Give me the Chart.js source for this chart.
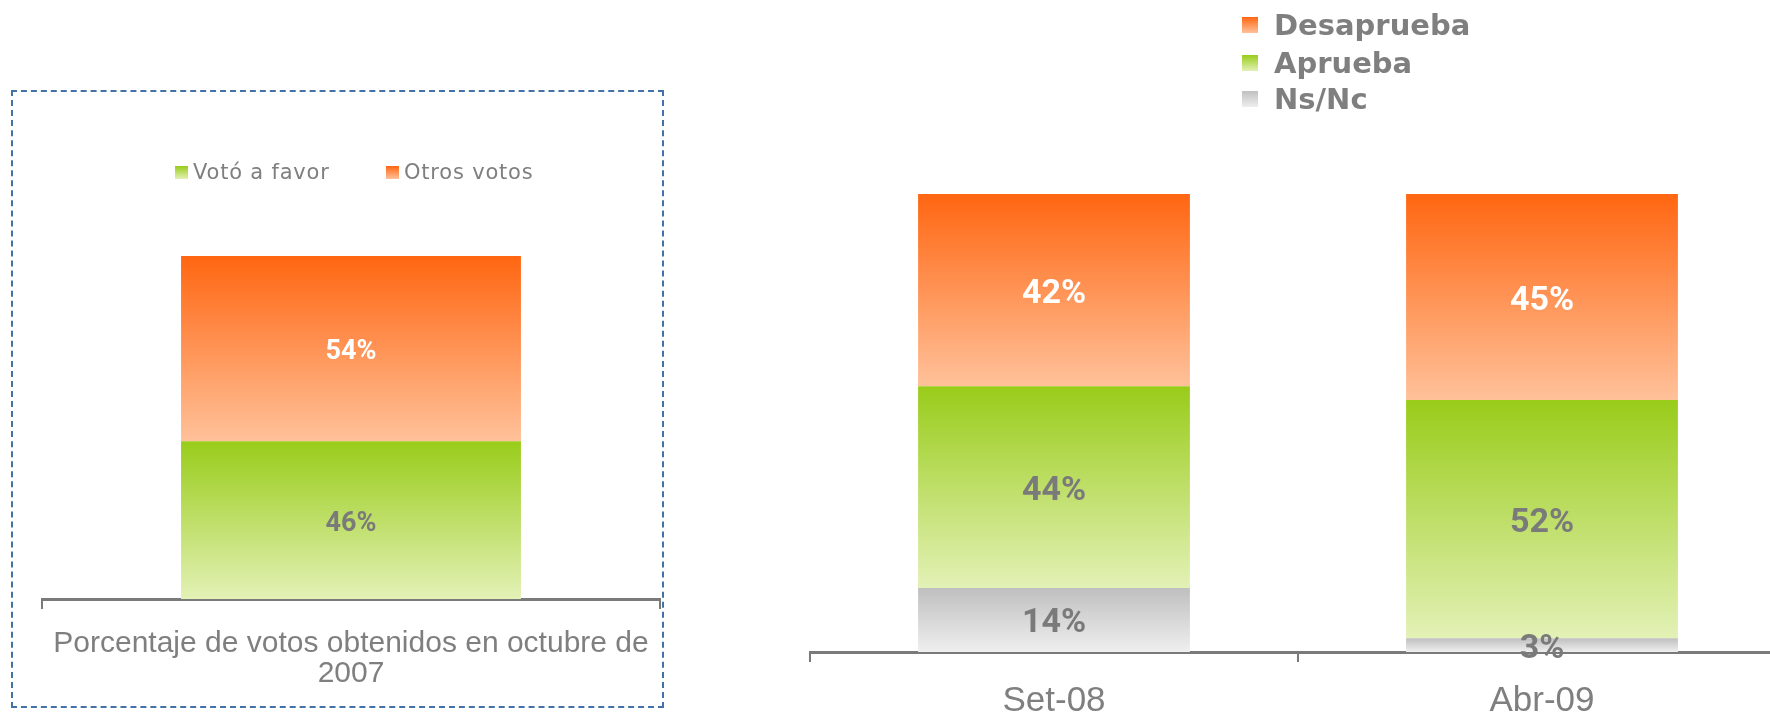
<!DOCTYPE html>
<html>
<head>
<meta charset="utf-8">
<script src="https://cdn.jsdelivr.net/npm/chart.js@4"></script>
<style>
  html, body { margin: 0; padding: 0; width: 1770px; height: 712px; overflow: hidden; background: #fff; }
  canvas { position: absolute; top: 0; }
  #leftChart { left: 0; }
  #rightChart { left: 690px; }
  .box { position: absolute; left: 11px; top: 90px; width: 649px; height: 614px; border: 2px dashed #4272a8; }
  .legend { position: absolute; color: #7f7f7f; font-family: 'DejaVu Sans', sans-serif; z-index: 2; }
  .legend .item { position: absolute; white-space: nowrap; display: flex; align-items: center; }
  .legend .sw { display: inline-block; }
  .small { font-size: 21px; letter-spacing: 0.8px; }
  .small .sw { width: 13px; height: 13px; margin-right: 5px; }
  .big { font-size: 29px; font-weight: bold; }
  .big .sw { width: 16px; height: 16px; margin-right: 16px; }
</style>
</head>
<body>
<div class="box"></div>
<canvas id="leftChart" width="680" height="712"></canvas>
<canvas id="rightChart" width="1110" height="765"></canvas>

<div class="legend small">
  <div class="item" style="left:175px; top:160px;"><span class="sw" style="background:linear-gradient(#99cc1a,#e3f1b6)"></span>Votó a favor</div>
  <div class="item" style="left:386px; top:160px;"><span class="sw" style="background:linear-gradient(#ff6611,#ffc19a)"></span>Otros votos</div>
</div>
<div class="legend big">
  <div class="item" style="left:1242px; top:8px;"><span class="sw" style="background:linear-gradient(#ff6611,#ffc19a)"></span>Desaprueba</div>
  <div class="item" style="left:1242px; top:46px;"><span class="sw" style="background:linear-gradient(#99cc1a,#e3f1b6)"></span>Aprueba</div>
  <div class="item" style="left:1242px; top:82px;"><span class="sw" style="background:linear-gradient(#c0c0c0,#eeeeee)"></span>Ns/Nc</div>
</div>

<script>
// datos
const leftCategories = [['Porcentaje de votos obtenidos en octubre de', '2007']];
const votoFavor = [46];
const otrosVotos = [54];

const rightCategories = ['Set-08', 'Abr-09'];
const nsNc = [14, 3];
const aprueba = [44, 52];
const desaprueba = [42, 45];

const ORANGE = ['#ff6611', '#ffc19a'];
const GREEN = ['#99cc1a', '#e3f1b6'];
const GRAY = ['#bfbfbf', '#efefef'];

// gradiente vertical por segmento
function segGradient(stops) {
  return (ctx) => {
    const chart = ctx.chart;
    const y = chart.scales.y;
    if (!chart.chartArea || ctx.type !== 'data' || !y) return stops[0];
    let start = 0;
    for (let i = 0; i < ctx.datasetIndex; i++) start += chart.data.datasets[i].data[ctx.dataIndex];
    const top = y.getPixelForValue(start + ctx.raw);
    const bot = y.getPixelForValue(start);
    if (!isFinite(top) || !isFinite(bot) || top === bot) return stops[0];
    const g = chart.ctx.createLinearGradient(0, top, 0, bot);
    g.addColorStop(0, stops[0]);
    g.addColorStop(1, stops[1]);
    return g;
  };
}

// etiquetas dentro de las barras
const barLabels = {
  id: 'barLabels',
  afterDatasetsDraw(chart, args, opts) {
    const ctx = chart.ctx;
    ctx.save();
    ctx.font = opts.font;
    ctx.textAlign = 'center';
    ctx.textBaseline = 'middle';
    chart.data.datasets.forEach((ds, i) => {
      chart.getDatasetMeta(i).data.forEach((el, j) => {
        ctx.fillStyle = ds.labelColor;
        ctx.fillText(ds.data[j] + '%', el.x, (el.y + el.base) / 2 + opts.dy);
      });
    });
    ctx.restore();
  }
};

function baseOptions(padding, barPct, tickFont, tickPad, labelFont) {
  return {
    responsive: false,
    animation: false,
    layout: { padding: padding },
    plugins: {
      legend: { display: false },
      tooltip: { enabled: false },
      barLabels: { font: labelFont, dy: 4 }
    },
    datasets: { bar: { categoryPercentage: 1, barPercentage: barPct } },
    scales: {
      x: {
        stacked: true,
        offset: true,
        grid: { offset: true, drawOnChartArea: false, drawTicks: true, tickLength: 10, color: '#7a7a7a', lineWidth: 2 },
        border: { color: '#7a7a7a', width: 3 },
        ticks: { color: '#7f7f7f', padding: tickPad, font: { family: "'Liberation Sans', sans-serif", size: tickFont, lineHeight: 1.0 } }
      },
      y: { stacked: true, display: false, min: 0, max: 100 }
    }
  };
}

new Chart(document.getElementById('leftChart'), {
  type: 'bar',
  data: {
    labels: leftCategories,
    datasets: [
      { label: 'Votó a favor', data: votoFavor, backgroundColor: segGradient(GREEN), labelColor: '#7a7a7a' },
      { label: 'Otros votos', data: otrosVotos, backgroundColor: segGradient(ORANGE), labelColor: '#ffffff' }
    ]
  },
  options: baseOptions({ left: 42, right: 20, top: 256, bottom: 3 }, 0.55, 30, 20, "bold 27px Roboto, 'DejaVu Sans', sans-serif"),
  plugins: [barLabels]
});

new Chart(document.getElementById('rightChart'), {
  type: 'bar',
  data: {
    labels: rightCategories,
    datasets: [
      { label: 'Ns/Nc', data: nsNc, backgroundColor: segGradient(GRAY), labelColor: '#7a7a7a' },
      { label: 'Aprueba', data: aprueba, backgroundColor: segGradient(GREEN), labelColor: '#7a7a7a' },
      { label: 'Desaprueba', data: desaprueba, backgroundColor: segGradient(ORANGE), labelColor: '#ffffff' }
    ]
  },
  options: baseOptions({ left: 120, right: 14, top: 194, bottom: 24 }, 0.557, 35, 22, "bold 34px Roboto, 'DejaVu Sans', sans-serif"),
  plugins: [barLabels]
});
</script>
</body>
</html>
